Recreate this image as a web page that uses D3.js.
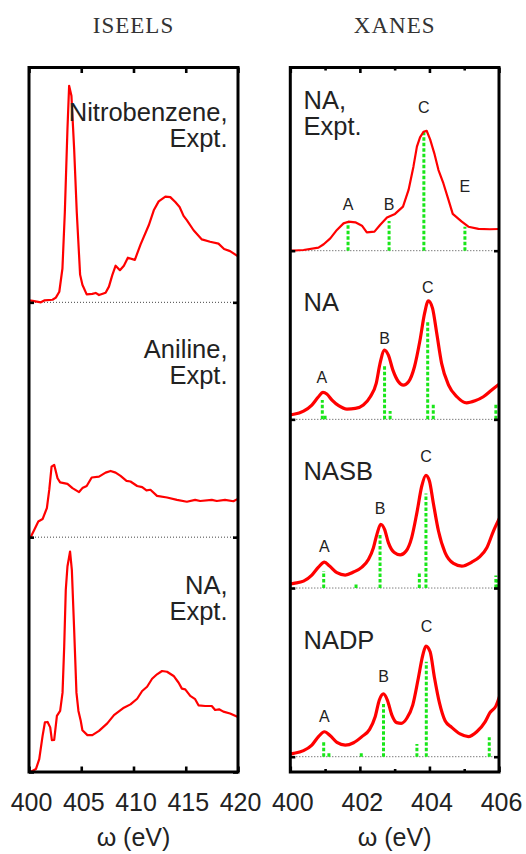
<!DOCTYPE html>
<html><head><meta charset="utf-8">
<script src="https://cdn.jsdelivr.net/npm/d3@7"></script>
<style>body{margin:0;background:#fff}svg{display:block}</style>
</head><body><svg id="c" width="526" height="854"></svg>
<script>
// ---------- tick labels ----------
const iseelsTicks = [400, 405, 410, 415, 420];
const xanesMajorTicks = [400, 402, 404, 406];
const xanesMinorTicks = [401, 403, 405];
const panelTitles = ["ISEELS", "XANES"];
const axisTitle = "ω (eV)";

// ---------- ISEELS spectra [ω (eV), intensity (arb.)] ----------
const nitrobenzeneExpt = [[400.0,0.008],[400.35,0.006],[401.14,0.0],[401.46,0.008],[402.25,0.011],[402.57,0.020],[402.9,0.045],[403.2,0.144],[403.43,0.385],[403.68,0.738],[403.84,0.922],[404.06,0.880],[404.32,0.653],[404.57,0.385],[404.89,0.118],[405.11,0.075],[405.52,0.034],[406.06,0.036],[406.38,0.040],[406.7,0.031],[407.33,0.041],[407.65,0.067],[407.97,0.116],[408.29,0.156],[408.7,0.137],[409.08,0.156],[409.46,0.190],[410.13,0.181],[410.67,0.246],[411.46,0.328],[411.94,0.392],[412.41,0.430],[413.05,0.450],[413.52,0.448],[414.0,0.427],[414.41,0.406],[414.79,0.368],[415.1,0.350],[415.75,0.307],[416.54,0.268],[417.33,0.258],[418.13,0.250],[418.67,0.227],[419.24,0.218],[419.97,0.197],[420.0,0.196]];
const anilineExpt = [[400.0,0.0],[400.19,0.003],[400.51,0.032],[400.89,0.067],[401.3,0.077],[401.71,0.124],[401.94,0.202],[402.16,0.300],[402.41,0.308],[402.73,0.251],[402.98,0.233],[403.68,0.227],[404.16,0.209],[404.79,0.192],[405.11,0.209],[405.52,0.218],[406.0,0.254],[406.7,0.258],[407.33,0.275],[407.81,0.282],[408.29,0.275],[408.76,0.261],[409.33,0.240],[409.71,0.237],[410.35,0.218],[410.83,0.213],[411.24,0.199],[411.62,0.202],[412.25,0.176],[413.21,0.169],[414.16,0.159],[415.11,0.151],[415.9,0.159],[416.38,0.154],[417.49,0.159],[417.97,0.154],[418.76,0.159],[419.56,0.153],[419.94,0.162],[420.0,0.163]];
const naExptIseels = [[400.0,0.0],[400.19,0.001],[400.67,0.013],[400.98,0.055],[401.3,0.154],[401.52,0.211],[401.78,0.213],[402.03,0.190],[402.19,0.136],[402.41,0.137],[402.67,0.239],[402.98,0.260],[403.21,0.338],[403.37,0.536],[403.52,0.776],[403.68,0.875],[403.93,0.939],[404.1,0.861],[404.32,0.607],[404.54,0.338],[404.73,0.260],[404.95,0.218],[405.11,0.178],[405.59,0.157],[406.06,0.157],[406.7,0.175],[407.49,0.207],[408.13,0.242],[409.08,0.274],[409.71,0.288],[410.35,0.312],[410.83,0.345],[411.3,0.363],[411.78,0.397],[412.25,0.416],[412.73,0.430],[413.21,0.427],[413.84,0.409],[414.32,0.380],[414.63,0.355],[414.95,0.352],[415.43,0.324],[415.9,0.310],[416.22,0.284],[416.86,0.281],[417.49,0.281],[417.81,0.264],[418.19,0.267],[418.6,0.257],[419.24,0.249],[419.94,0.235],[420.0,0.234]];

// ---------- XANES spectra [ω (eV), intensity (arb.)] ----------
const naExptXanes = [[400.0,0.001],[400.11,0.001],[400.38,0.004],[400.81,0.018],[400.96,0.038],[401.15,0.073],[401.34,0.123],[401.53,0.162],[401.67,0.172],[401.87,0.168],[402.06,0.148],[402.2,0.109],[402.42,0.113],[402.58,0.152],[402.78,0.196],[403.01,0.218],[403.24,0.261],[403.4,0.360],[403.54,0.498],[403.64,0.617],[403.73,0.672],[403.83,0.705],[403.92,0.711],[404.02,0.660],[404.14,0.577],[404.26,0.478],[404.4,0.400],[404.55,0.300],[404.67,0.218],[404.93,0.172],[405.12,0.142],[405.41,0.129],[405.74,0.127],[406.06,0.129]];
const naTheory = [[400.0,0.027],[400.1,0.030],[400.38,0.049],[400.62,0.085],[400.81,0.134],[400.94,0.160],[401.05,0.150],[401.2,0.114],[401.39,0.081],[401.63,0.061],[401.87,0.065],[402.1,0.085],[402.3,0.134],[402.47,0.213],[402.58,0.332],[402.71,0.411],[402.82,0.381],[402.95,0.292],[403.11,0.223],[403.25,0.203],[403.4,0.223],[403.57,0.312],[403.73,0.470],[403.86,0.628],[403.97,0.703],[404.09,0.658],[404.21,0.510],[404.35,0.332],[404.55,0.203],[404.79,0.134],[405.07,0.098],[405.31,0.110],[405.55,0.134],[405.79,0.174],[406.03,0.213]];
const nasbTheory = [[400.0,0.024],[400.1,0.028],[400.38,0.041],[400.62,0.077],[400.81,0.124],[400.98,0.154],[401.13,0.130],[401.34,0.091],[401.58,0.077],[401.82,0.095],[402.06,0.124],[402.25,0.170],[402.39,0.239],[402.49,0.318],[402.6,0.378],[402.71,0.348],[402.82,0.269],[402.99,0.210],[403.16,0.196],[403.33,0.219],[403.49,0.299],[403.64,0.447],[403.78,0.605],[403.9,0.668],[404.0,0.634],[404.11,0.506],[404.26,0.338],[404.45,0.210],[404.69,0.146],[404.93,0.130],[405.22,0.154],[405.45,0.186],[405.65,0.239],[405.84,0.338],[406.01,0.413]];
const nadpTheory = [[400.0,0.017],[400.1,0.020],[400.38,0.036],[400.62,0.069],[400.81,0.119],[400.98,0.148],[401.15,0.124],[401.34,0.085],[401.58,0.069],[401.82,0.083],[402.06,0.119],[402.28,0.162],[402.44,0.237],[402.56,0.336],[402.68,0.372],[402.79,0.336],[402.92,0.247],[403.06,0.202],[403.19,0.198],[403.35,0.228],[403.52,0.306],[403.68,0.465],[403.81,0.603],[403.9,0.656],[404.02,0.622],[404.14,0.474],[404.29,0.317],[404.45,0.213],[404.64,0.174],[404.88,0.135],[405.12,0.119],[405.36,0.148],[405.6,0.207],[405.74,0.261],[405.91,0.300],[406.03,0.366]];

// ---------- transitions (sticks) [ω (eV), strength] ----------
const naExptSticks = [[401.66,0.172],[402.84,0.176],[403.84,0.711],[405.02,0.142]];
const naSticks = [[400.92,0.114],[401.0,0.025],[402.71,0.316],[402.87,0.049],[403.95,0.583],[404.11,0.097],[405.91,0.091]];
const nasbSticks = [[400.96,0.101],[401.89,0.026],[402.58,0.318],[403.71,0.091],[403.9,0.561],[405.91,0.075],[405.96,0.05],[406.02,0.111]];
const nadpSticks = [[400.96,0.095],[401.11,0.020],[402.04,0.020],[402.68,0.312],[403.64,0.075],[403.91,0.563],[405.72,0.115]];

// ---------- peak letters [label, ω, intensity] ----------
const naExptPeaks = [["A",401.66,0.24],["B",402.84,0.24],["C",403.84,0.815],["E",405.02,0.347]];
const naPeaks = [["A",400.91,0.213],["B",402.71,0.445],["C",403.95,0.747]];
const nasbPeaks = [["A",400.98,0.216],["B",402.58,0.441],["C",403.9,0.747]];
const nadpPeaks = [["A",400.98,0.207],["B",402.68,0.441],["C",403.92,0.741]];

// ---------- layout ----------
const svg = d3.select("#c");
const TOP = 67.5, BOT = 772;
const xL = d3.scaleLinear().domain([400, 420]).range([29, 238]);
const yL = d3.scaleLinear().domain([0, 3]).range([BOT, TOP]);
const xR = d3.scaleLinear().domain([400, 406]).range([290.3, 499]);
const yR = d3.scaleLinear().domain([-0.0907, 4.086]).range([BOT, TOP]);

const RED = "#ff0000", GREEN = "#19e619", TXT = "#222";
const SANS = "'Liberation Sans', Arial, Helvetica, sans-serif";

const defs = svg.append("defs");
function clip(id, x, y) {
  defs.append("clipPath").attr("id", id).append("rect")
    .attr("x", x.range()[0]).attr("y", TOP)
    .attr("width", x.range()[1] - x.range()[0]).attr("height", BOT - TOP);
}
clip("clipL", xL, yL); clip("clipR", xR, yR);

function baseline(x, y, off) {
  svg.append("line").attr("x1", x.range()[0]).attr("x2", x.range()[1])
    .attr("y1", y(off)).attr("y2", y(off))
    .attr("stroke", "#444").attr("stroke-width", 1).attr("stroke-dasharray", "1,2");
}
function curve(x, y, data, off, clipId, width, smooth) {
  const line = d3.line().x(d => x(d[0])).y(d => y(d[1] + off))
    .curve(smooth ? d3.curveMonotoneX : d3.curveLinear);
  svg.append("path").datum(data).attr("d", line)
    .attr("clip-path", `url(#${clipId})`)
    .attr("fill", "none").attr("stroke", RED).attr("stroke-width", width)
    .attr("stroke-linejoin", "round");
}
function sticks(x, y, data, off, clipId) {
  svg.append("g").attr("clip-path", `url(#${clipId})`).selectAll("line").data(data).join("line")
    .attr("x1", d => x(d[0])).attr("x2", d => x(d[0]))
    .attr("y1", y(off)).attr("y2", d => y(d[1] + off))
    .attr("stroke", GREEN).attr("stroke-width", 3).attr("stroke-dasharray", "3.5,2");
}
function peaks(x, y, data, off) {
  svg.append("g").selectAll("text").data(data).join("text")
    .attr("x", d => x(d[1])).attr("y", d => y(d[2] + off))
    .attr("text-anchor", "middle").attr("font-family", SANS).attr("font-size", 16)
    .attr("fill", TXT).text(d => d[0]);
}
function label(lines, x, y0, anchor) {
  const t = svg.append("text").attr("font-family", SANS).attr("font-size", 25.5)
    .attr("fill", TXT).attr("text-anchor", anchor);
  lines.forEach((s, i) => t.append("tspan").attr("x", x).attr("y", y0 + i * 26).text(s));
}

// ---------- ISEELS column ----------
[2, 1, 0].forEach(o => baseline(xL, yL, o));
curve(xL, yL, nitrobenzeneExpt, 2, "clipL", 2.2, false);
curve(xL, yL, anilineExpt, 1, "clipL", 2.2, false);
curve(xL, yL, naExptIseels, 0, "clipL", 2.2, false);
label(["Nitrobenzene,", "Expt."], 227.5, 121, "end");
label(["Aniline,", "Expt."], 227.5, 358, "end");
label(["NA,", "Expt."], 227.5, 593.5, "end");

// ---------- XANES column ----------
[3, 2, 1, 0].forEach(o => baseline(xR, yR, o));
sticks(xR, yR, naExptSticks, 3, "clipR");
sticks(xR, yR, naSticks, 2, "clipR");
sticks(xR, yR, nasbSticks, 1, "clipR");
sticks(xR, yR, nadpSticks, 0, "clipR");
curve(xR, yR, naExptXanes, 3, "clipR", 2.2, false);
curve(xR, yR, naTheory, 2, "clipR", 3.2, true);
curve(xR, yR, nasbTheory, 1, "clipR", 3.2, true);
curve(xR, yR, nadpTheory, 0, "clipR", 3.2, true);
peaks(xR, yR, naExptPeaks, 3);
peaks(xR, yR, naPeaks, 2);
peaks(xR, yR, nasbPeaks, 1);
peaks(xR, yR, nadpPeaks, 0);
label(["NA,", "Expt."], 303.5, 108.5, "start");
label(["NA"], 303.5, 311, "start");
label(["NASB"], 303.5, 480, "start");
label(["NADP"], 303.5, 648.5, "start");

// ---------- axes & frames ----------
function styleAxis(g) {
  g.select(".domain").remove();
  g.selectAll(".tick line").attr("stroke", "#000").attr("stroke-width", 2.6);
  g.selectAll(".tick text").attr("font-family", SANS).attr("font-size", 25).attr("fill", TXT);
}
function frame(x, y, ticks, minor, offs) {
  const [x0, x1] = x.range();
  svg.append("g").attr("transform", `translate(0,${BOT})`)
    .call(d3.axisBottom(x).tickValues(ticks).tickSize(-5.5).tickPadding(21).tickFormat(d3.format("d")))
    .call(styleAxis).selectAll(".tick text").attr("dx", "0.08em");
  svg.append("g").attr("transform", `translate(0,${TOP})`)
    .call(d3.axisTop(x).tickValues(ticks).tickSize(-5.5).tickFormat(""))
    .call(styleAxis);
  if (minor) {
    svg.append("g").attr("transform", `translate(0,${BOT})`)
      .call(d3.axisBottom(x).tickValues(minor).tickSize(-3).tickFormat("")).call(styleAxis);
    svg.append("g").attr("transform", `translate(0,${TOP})`)
      .call(d3.axisTop(x).tickValues(minor).tickSize(-3).tickFormat("")).call(styleAxis);
  }
  svg.append("g").attr("transform", `translate(${x0},0)`)
    .call(d3.axisLeft(y).tickValues(offs).tickSize(-5).tickFormat("")).call(styleAxis);
  svg.append("g").attr("transform", `translate(${x1},0)`)
    .call(d3.axisRight(y).tickValues(offs).tickSize(-5).tickFormat("")).call(styleAxis);
  svg.append("rect").attr("x", x0).attr("y", TOP).attr("width", x1 - x0).attr("height", BOT - TOP)
    .attr("fill", "none").attr("stroke", "#000").attr("stroke-width", 3);
  svg.append("text").attr("x", (x0 + x1) / 2).attr("y", 846).attr("text-anchor", "middle")
    .attr("font-family", SANS).attr("font-size", 25).attr("fill", TXT).text(axisTitle);
}
frame(xL, yL, iseelsTicks, null, [0, 1, 2]);
frame(xR, yR, xanesMajorTicks, xanesMinorTicks, [0, 1, 2, 3]);

// ---------- column titles ----------
svg.selectAll("text.title").data([[panelTitles[0], xL], [panelTitles[1], xR]]).join("text")
  .attr("class", "title")
  .attr("x", d => (d[1].range()[0] + d[1].range()[1]) / 2).attr("y", 32.5)
  .attr("text-anchor", "middle").attr("font-family", "'Liberation Serif', 'Times New Roman', serif")
  .attr("font-size", 23).attr("letter-spacing", 1).attr("fill", "#333").text(d => d[0]);
</script>
</body></html>
